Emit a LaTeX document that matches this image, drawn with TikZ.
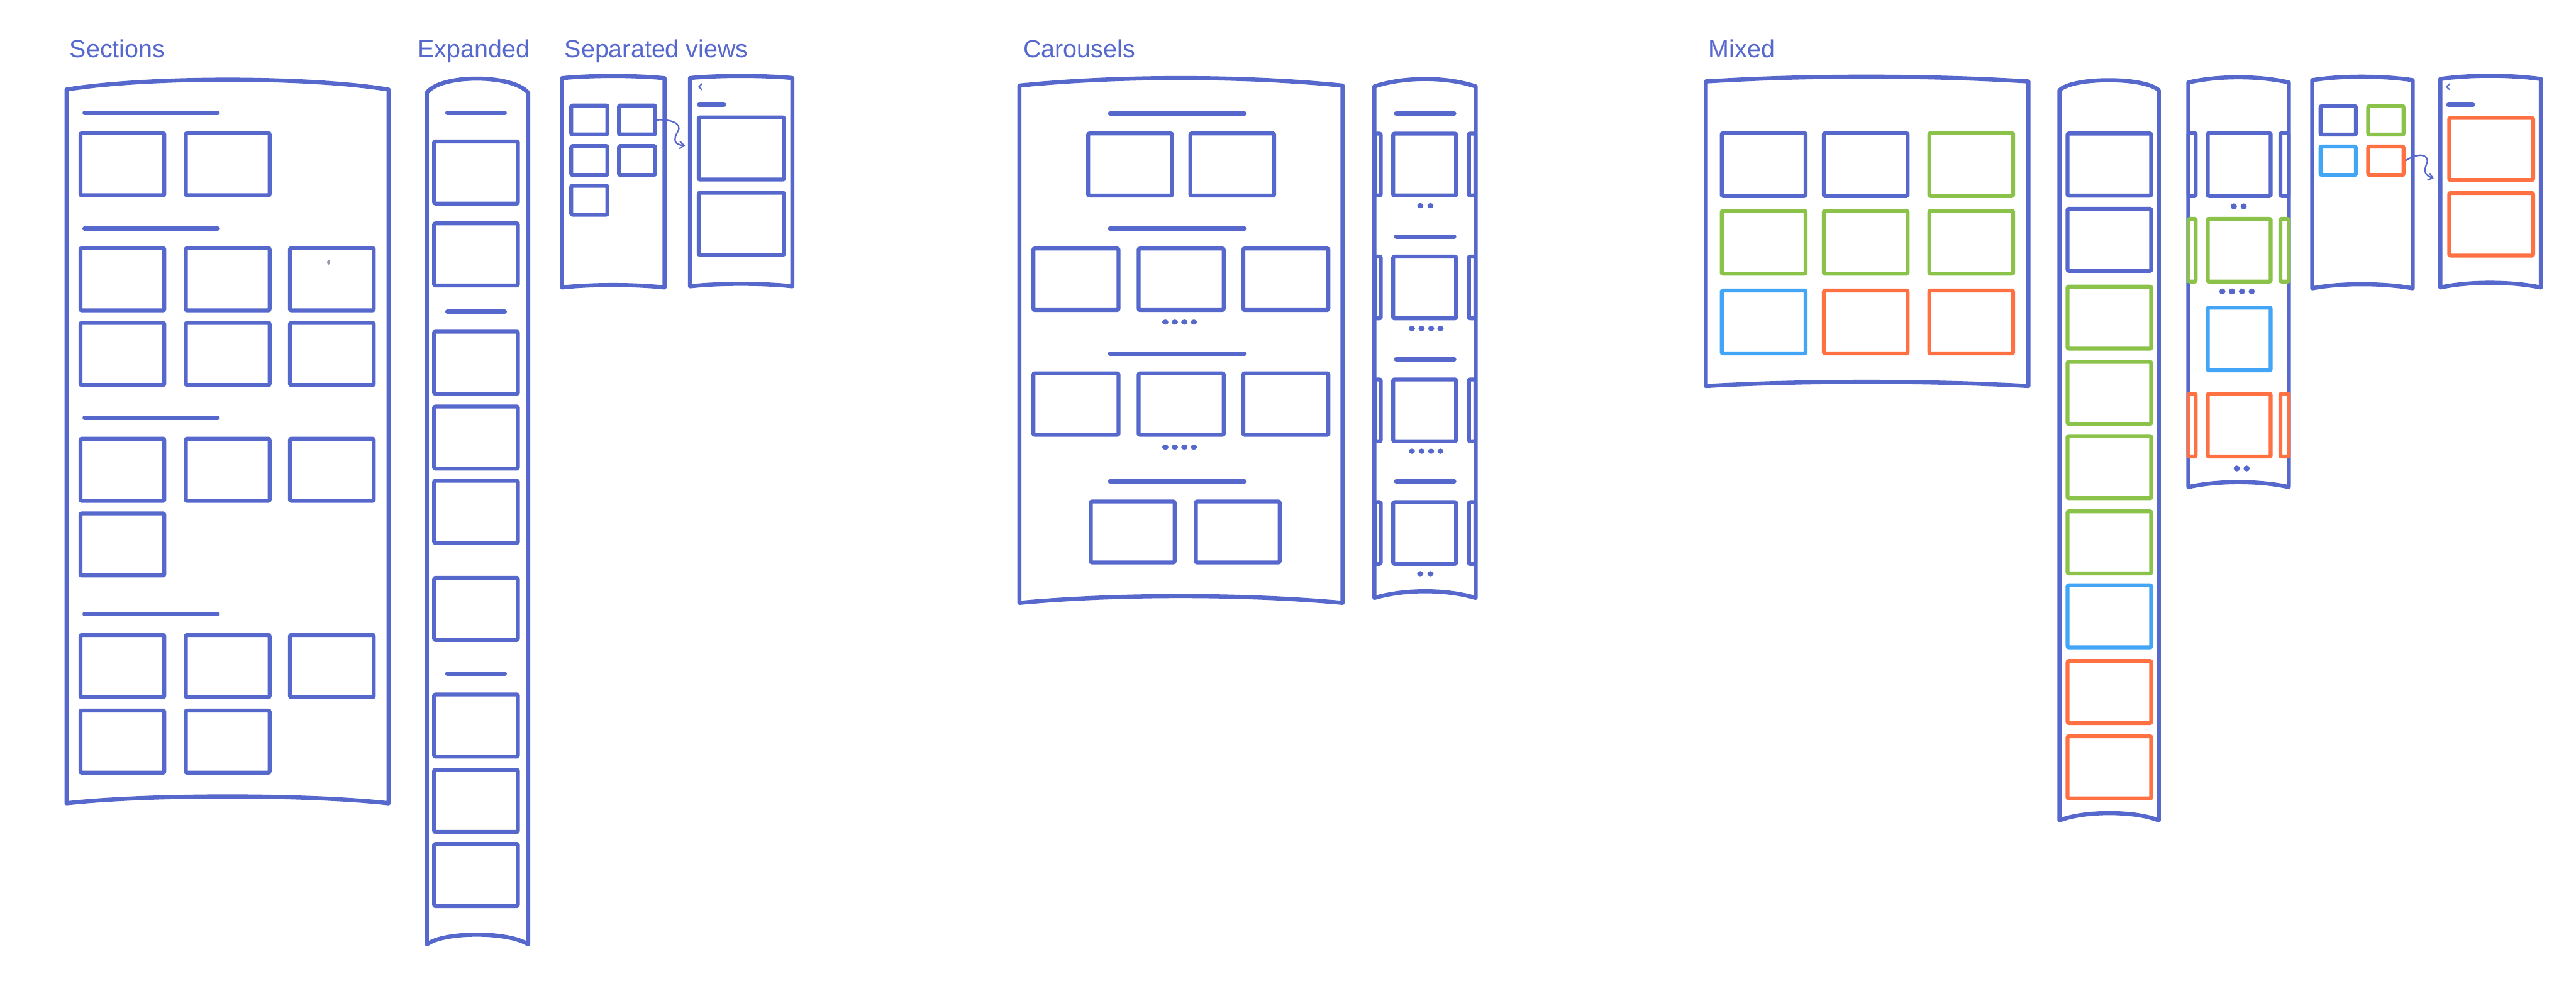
\documentclass[tikz,border=0pt]{standalone}
\usepackage{fontspec}
\setmainfont{Liberation Sans}
\usetikzlibrary{arrows.meta, positioning, calc}
\definecolor{cInk}{RGB}{86,104,204}
\definecolor{cGreen}{RGB}{139,195,74}
\definecolor{cSky}{RGB}{66,165,245}
\definecolor{cOrange}{RGB}{255,112,67}
\definecolor{cMark}{RGB}{150,150,165}
\tikzset{
	panel/.style    ={draw=cInk, line width=2.5mm, line join=round},
	card/.style     ={rectangle, draw=cInk, line width=2.4mm, rounded corners=0.8mm, inner sep=0pt, minimum width=51mm, minimum height=37.8mm},
	thumb/.style    ={card, minimum width=22mm, minimum height=17.6mm},
	slide/.style    ={card, minimum width=38.3mm, minimum height=37.6mm},
	peek/.style     ={card, minimum width=4mm, minimum height=37.6mm},
	bar/.style      ={draw=cInk, line width=2.7mm, line cap=round},
	pip/.style      ={fill=cInk},
	chev/.style     ={draw=cInk, line width=0.8mm, line cap=round, line join=round},
	title/.style    ={anchor=base west, text=cInk, inner sep=0pt, font=\fontsize{43}{50}\selectfont},
	% arrow from a list item to its own view
	linkarrow/.style={-{Straight Barb[length=2.6mm, width=4.4mm]}, draw=cInk, line width=0.9mm},
}
\begin{document}
\begin{tikzpicture}[x=1mm, y=-1mm]
	\useasboundingbox (0,0) rectangle (1568,603);
	% titles
	\node[title] (tSec) at (42.4,35) {Sections};
	\node[title] (tExp) at (254.3,35) {Expanded};
	\node[title] (tSep) at (343.6,35) {Separated views};
	\node[title] (tCar) at (622.8,35) {Carousels};
	\node[title] (tMix) at (1040,35) {Mixed};

	% Sections
	\draw[panel] (40.5,489) -- (40.5,54.5) .. controls (90,46.5) and (187,46.5) .. (236.5,54.5) -- (236.5,489) .. controls (187,483.5) and (90,483.5) .. cycle;
	\foreach \y in {68.8,139,254.4,373.8} \draw[bar] (51.5,\y) -- (132.5,\y);
	\foreach \y/\r/\n in {100/a/2, 170/b/3, 215.5/c/3, 286/d/3, 331.5/e/1, 405.5/f/3, 451.5/g/2}
		\foreach \x [count=\i] in {74.5,138.6,202} {
			\ifnum\i>\n\else \node[card] (s\r\i) at (\x,\y) {}; \fi
		};
	\fill[cMark] (200,159.7) ellipse (0.9 and 1.4);

	% Expanded
	\draw[panel] (259.8,575) -- (259.8,56.5) .. controls (268,45) and (312,45) .. (321.5,56.5) -- (321.5,575) .. controls (310,567) and (270,567) .. cycle;
	\foreach \y in {68.8,189.8,410.3} \draw[bar] (272.3,\y) -- (307.2,\y);
	\foreach \y [count=\i] in {105,154.9,220.8,266.4,311.6,370.7,441.7,487.6,532.7}
		\node[card] (e\i) at (289.75,\y) {};

	% Separated views
	\draw[panel] (342,175) -- (342,47.6) .. controls (360,45.8) and (386,45.8) .. (404.5,47.6) -- (404.5,175) .. controls (386,173) and (360,173) .. cycle;
	\node[thumb] (v1) at (358.7,73) {};
	\node[thumb] (v2) at (387.75,73) {};
	\node[thumb] (v3) at (358.7,97.7) {};
	\node[thumb] (v4) at (387.75,97.7) {};
	\node[thumb] (v5) at (358.7,121.9) {};
	\draw[panel] (420,174.3) -- (420,47.5) .. controls (438,45.8) and (464,45.8) .. (482.3,47.5) -- (482.3,174.3) .. controls (464,172.3) and (438,172.3) .. cycle;
	\draw[chev] (427.3,51) -- (425.4,52.9) -- (427.3,54.6);
	\draw[bar] (425.5,63.9) -- (440.7,63.9);
	\node[card, minimum width=51.9mm] (w1) at (451.25,90.4) {};
	\node[card, minimum width=51.9mm] (w2) at (451.25,136.25) {};
	\draw[linkarrow] (v2.east) .. controls (408,72.5) and (415.5,75) .. (412.6,80) .. controls (409.5,85.5) and (410.5,88) .. ([shift={(-7.1,-1.8)}]w1.west);

	% Carousels
	\draw[panel] (620.5,367) -- (620.5,52.1) .. controls (680,46) and (757,46) .. (817.2,52.1) -- (817.2,367) .. controls (757,361.5) and (680,361.5) .. cycle;
	\foreach \y in {69.1,139.2,215.3,293} \draw[bar] (675.7,\y) -- (757.5,\y);
	\node[card] (c11) at (687.85,100.15) {};
	\node[card] (c12) at (750.05,100.15) {};
	\foreach \y/\r in {170/2, 246/3}
		\foreach \x [count=\i] in {654.9,718.95,782.7}
			\node[card, minimum width=51.8mm, minimum height=37.4mm] (c\r\i) at (\x,\y) {};
	\node[card, minimum height=37.1mm] (c41) at (689.45,323.85) {};
	\node[card, minimum height=37.1mm] (c42) at (753.4,323.85) {};
	\foreach \x in {709.3,715.1,720.9,726.7} {
		\fill[pip] (\x,196.1) ellipse (1.9 and 1.6);
		\fill[pip] (\x,272.2) ellipse (1.9 and 1.6);
	}
	\draw[panel] (836.6,364) -- (836.6,52.6) .. controls (855,46.6) and (880,46.6) .. (898.2,52.6) -- (898.2,364) .. controls (880,358.6) and (855,358.6) .. cycle;
	\foreach \y in {69.1,144,218.6,293} \draw[bar] (849.8,\y) -- (885.1,\y);
	\foreach \y [count=\i] in {100.15,175,249.8,324.5} {
		\node[slide] (m\i) at (867.15,\y) {};
		\node[peek, minimum width=3.7mm] (ml\i) at (838.6,\y) {};
		\node[peek] (mr\i) at (896.1,\y) {};
	}
	\foreach \x in {864.5,870.7} {
		\fill[pip] (\x,125.2) ellipse (1.9 and 1.6);
		\fill[pip] (\x,349.3) ellipse (1.9 and 1.6);
	}
	\foreach \x in {859.4,865.3,871.1,876.8} {
		\fill[pip] (\x,200) ellipse (1.9 and 1.6);
		\fill[pip] (\x,274.7) ellipse (1.9 and 1.6);
	}

	% Mixed
	\draw[panel] (1038.3,235) -- (1038.3,49.6) .. controls (1100,45.7) and (1172,45.7) .. (1234.7,49.6) -- (1234.7,235) .. controls (1172,231.6) and (1100,231.6) .. cycle;
	\foreach \y/\r/\ca/\cb/\cc in {100.2/1/cInk/cInk/cGreen, 147.5/2/cGreen/cGreen/cGreen, 196/3/cSky/cOrange/cOrange} {
		\node[card, draw=\ca, minimum height=38.2mm] (x\r1) at (1073.5,\y) {};
		\node[card, draw=\cb, minimum height=38.2mm] (x\r2) at (1135.65,\y) {};
		\node[card, draw=\cc, minimum height=38.2mm] (x\r3) at (1199.9,\y) {};
	}
	\draw[panel] (1253.6,499.5) -- (1253.6,54.9) .. controls (1262,46.8) and (1305,46.8) .. (1314,54.9) -- (1314,499.5) .. controls (1300,493.5) and (1268,493.5) .. cycle;
	\foreach \y/\c [count=\i] in {100.2/cInk,146/cInk,193.4/cGreen,239.2/cGreen,284.4/cGreen,330.2/cGreen,375.2/cSky,421.3/cOrange,467.15/cOrange}
		\node[card, draw=\c, minimum width=50.9mm] (k\i) at (1283.95,\y) {};
	\draw[panel] (1332,296.5) -- (1332,50.2) .. controls (1350,46) and (1375,46) .. (1393.2,50.2) -- (1393.2,296.5) .. controls (1375,292.5) and (1350,292.5) .. cycle;
	\foreach \y/\c [count=\i] in {100.2/cInk,152.3/cGreen,206.4/cSky,258.85/cOrange}
		\node[slide, draw=\c, minimum height=38.2mm] (q\i) at (1363,\y) {};
	\foreach \y/\c [count=\i] in {100.2/cInk,152.3/cGreen,258.85/cOrange} {
		\node[peek, draw=\c, minimum width=4.4mm, minimum height=38.2mm] (ql\i) at (1334.3,\y) {};
		\node[peek, draw=\c, minimum width=5mm, minimum height=38.2mm] (qr\i) at (1390.6,\y) {};
	}
	\foreach \x in {1359.7,1365.7} \fill[pip] (\x,125.6) ellipse (1.9 and 1.8);
	\foreach \x in {1352.7,1358.6,1364.6,1370.6} \fill[pip] (\x,177.4) ellipse (1.9 and 1.8);
	\foreach \x in {1361.5,1367.5} \fill[pip] (\x,285.2) ellipse (1.9 and 1.8);
	\draw[panel] (1407.4,175.5) -- (1407.4,48.8) .. controls (1425,46) and (1450,46) .. (1468.6,48.8) -- (1468.6,175.5) .. controls (1450,172.2) and (1425,172.2) .. cycle;
	\node[thumb, minimum width=21.5mm, minimum height=17.3mm] (n1) at (1423.25,73.25) {};
	\node[thumb, draw=cGreen, minimum width=21.5mm, minimum height=17.3mm] (n2) at (1452.25,73.25) {};
	\node[thumb, draw=cSky, minimum width=21.5mm, minimum height=17.3mm] (n3) at (1423.25,97.85) {};
	\node[thumb, draw=cOrange, minimum width=21.5mm, minimum height=17.3mm] (n4) at (1452.25,97.85) {};
	\draw[panel] (1485.4,175) -- (1485.4,48.1) .. controls (1503,45.5) and (1528,45.5) .. (1546.6,48.1) -- (1546.6,175) .. controls (1528,171.2) and (1503,171.2) .. cycle;
	\draw[chev] (1491,51.1) -- (1489.2,52.8) -- (1491,54.5);
	\draw[bar] (1490.3,63.9) -- (1505.2,63.9);
	\node[card, draw=cOrange, minimum width=51.1mm] (u1) at (1516.35,90.7) {};
	\node[card, draw=cOrange, minimum width=51.1mm, minimum height=38.1mm] (u2) at (1516.35,136.55) {};
	\draw[linkarrow] (n4.east) .. controls (1473,92) and (1479.5,94.5) .. (1477,100) .. controls (1475,104.5) and (1476.5,107) .. ([shift={(-8.2,-2.3)}]u1.south west);
\end{tikzpicture}
\end{document}
